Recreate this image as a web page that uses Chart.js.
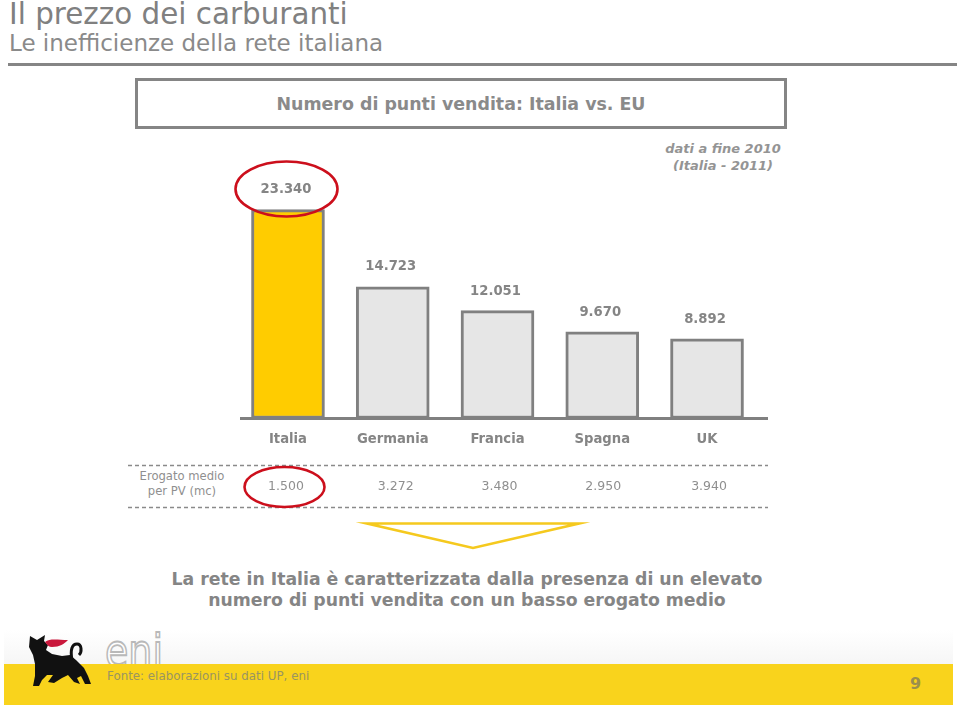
<!DOCTYPE html>
<html lang="it"><head><meta charset="utf-8">
<script src="https://cdn.jsdelivr.net/npm/chart.js@4"></script>
<style>
html,body{margin:0;padding:0;background:#fff;width:960px;height:706px;overflow:hidden;font-family:"DejaVu Sans",sans-serif;color:#858585}
.a{position:absolute;white-space:nowrap}
#c{position:absolute;left:0;top:0;z-index:3}
</style></head><body>
<div class="a" id="t1" style="left:9px;top:-2px;font-size:29.4px;line-height:32px;color:#808080">Il prezzo dei carburanti</div>
<div class="a" id="t2" style="left:9px;top:30px;font-size:23px;line-height:26px;color:#8a8a8a">Le inefficienze della rete italiana</div>
<div class="a" style="left:8px;top:63px;width:949px;height:3px;background:#858585"></div>
<div class="a" style="left:135px;top:78px;width:646px;height:45px;border:3px solid #858585;background:#fff"></div>
<div class="a" style="left:135px;top:93px;width:652px;text-align:center;font-weight:bold;font-size:17.4px;line-height:22px;color:#8a8a8a">Numero di punti vendita: Italia vs. EU</div>
<div class="a" style="left:640px;top:141px;width:166px;text-align:center;font-style:italic;font-weight:bold;font-size:13px;line-height:16.5px;color:#949494">dati a fine 2010<br>(Italia - 2011)</div>
<div class="a" style="left:132px;top:468.5px;width:100px;text-align:center;font-size:11.6px;line-height:15.5px;color:#8f8f8f">Erogato medio<br>per PV (mc)</div>
<div class="a" style="left:120px;top:568.5px;width:694px;text-align:center;font-weight:bold;font-size:17.3px;line-height:21.5px;color:#858585">La rete in Italia è caratterizzata dalla presenza di un elevato<br>numero di punti vendita con un basso erogato medio</div>
<div class="a" style="left:4px;top:630px;width:949px;height:34px;background:linear-gradient(#ffffff,#f6f6f6)"></div>
<svg class="a" style="left:0;top:620px" width="960" height="86" viewBox="0 620 960 86">
<text x="105" y="667" font-family="DejaVu Sans" font-size="47" textLength="58" lengthAdjust="spacingAndGlyphs" fill="#ffffff" stroke="#b9b9b9" stroke-width="1.8">eni</text>
<rect x="4" y="664" width="949" height="41" fill="#f9d31c"/>
<path fill="#111" d="M30 636L37 640L45 635L44 641L48 645L46 650L52 654L62 656L70 655L76 660L84 668L88 676L91 684L85 684L81 676L77 678L80 684L74 682L68 675L62 678L54 683L48 682L53 675L47 675L42 680L39 686L33 686L35 676L35 664L33 655L29 647Z"/>
<path fill="none" stroke="#111" stroke-width="3" d="M72 660C70 650 72 644 77 644C82 644 82 652 79 655"/>
<path fill="#c9183c" d="M45 642C50 638 58 640 68 640C64 644 60 647 52 647C49 647 47 645 45 642Z"/>
</svg>
<div class="a" style="left:107px;top:668px;font-size:11.85px;line-height:16px;color:#9a9560">Fonte: elaborazioni su dati UP, eni</div>
<div class="a" style="left:910px;top:675px;font-size:16px;font-weight:bold;line-height:18px;color:#9c8f4c">9</div>
<canvas id="c" width="960" height="706"></canvas>
<script>
const categories = ["Italia","Germania","Francia","Spagna","UK"];
const puntiVendita = [23340,14723,12051,9670,8892];
const puntiLabels = ["23.340","14.723","12.051","9.670","8.892"];
const erogatoLabels = ["1.500","3.272","3.480","2.950","3.940"];
const barFill = ["#ffcc00","#e6e6e6","#e6e6e6","#e6e6e6","#e6e6e6"];
const GREY = "#808080";

const decor = {
  id:"decor",
  afterDatasetsDraw(chart){
    const {ctx} = chart, x = chart.scales.x, y = chart.scales.y;
    ctx.save();
    ctx.strokeStyle = GREY; ctx.lineWidth = 3;
    ctx.beginPath(); ctx.moveTo(240, y.getPixelForValue(0)); ctx.lineTo(768, y.getPixelForValue(0)); ctx.stroke();
    ctx.textAlign = "center"; ctx.textBaseline = "middle";
    ctx.font = "bold 13.2px 'DejaVu Sans'"; ctx.fillStyle = "#858585";
    puntiVendita.forEach((v,i)=>{
      ctx.fillText(puntiLabels[i], x.getPixelForValue(i) - 2, y.getPixelForValue(v) - (i < 2 ? 20 : 19));
    });
    ctx.font = "12.5px 'DejaVu Sans'"; ctx.fillStyle = "#8f8f8f";
    const rowShift = [-2,3,2,1,2];
    erogatoLabels.forEach((t,i)=> ctx.fillText(t, x.getPixelForValue(i) + rowShift[i], 486.5));
    ctx.strokeStyle = "#8a8a8a"; ctx.lineWidth = 1.3; ctx.setLineDash([4,3]);
    [465.5,507.5].forEach(py=>{ctx.beginPath();ctx.moveTo(128,py);ctx.lineTo(768,py);ctx.stroke();});
    ctx.setLineDash([]);
    ctx.strokeStyle = "#cc0f1c"; ctx.lineWidth = 2.6;
    ctx.beginPath(); ctx.ellipse(286.5,189,51,27.5,0,0,Math.PI*2); ctx.stroke();
    ctx.beginPath(); ctx.ellipse(284.5,487,40,20,0,0,Math.PI*2); ctx.stroke();
    ctx.strokeStyle = "#f5c91e"; ctx.lineWidth = 2.6; ctx.lineJoin = "miter";
    ctx.beginPath(); ctx.moveTo(367,523.5); ctx.lineTo(579,523.5); ctx.lineTo(473,548); ctx.closePath(); ctx.stroke();
    ctx.restore();
  }
};

new Chart(document.getElementById("c"),{
  type:"bar",
  data:{labels:categories,datasets:[{data:puntiVendita,backgroundColor:barFill,borderColor:GREY,borderWidth:3,borderSkipped:false,barThickness:73}]},
  plugins:[decor],
  options:{
    responsive:false,animation:false,devicePixelRatio:1,
    layout:{padding:{left:235.6,right:200.6,top:194.75,bottom:247.5}},
    plugins:{legend:{display:false},tooltip:{enabled:false},title:{display:false}},
    scales:{
      y:{display:false,min:0,max:25000},
      x:{
        afterFit(s){s.height=40;},
        grid:{display:false},border:{display:false},
        ticks:{color:"#858585",padding:5.5,font:{family:"DejaVu Sans",size:13.2,weight:"bold"},maxRotation:0}
      }
    }
  }
});
</script>
</body></html>
